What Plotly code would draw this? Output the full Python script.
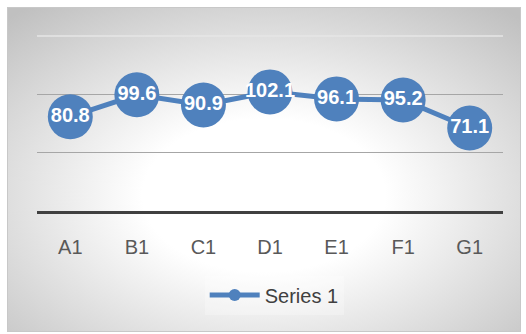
import base64
import plotly.graph_objects as go

categories = ["A1", "B1", "C1", "D1", "E1", "F1", "G1"]
values = [80.8, 99.6, 90.9, 102.1, 96.1, 95.2, 71.1]
series_name = "Series 1"
label_texts = [f"{v:.1f}" for v in values]

W, H = 526, 334
ml, mr, mt, mb = 37, 23, 36, 123
pw = W - ml - mr
ph = H - mt - mb

svg = f"""<svg xmlns='http://www.w3.org/2000/svg' width='514' height='325' viewBox='0 0 514 325'>
<defs><radialGradient id='g' cx='50%' cy='58%' r='74%'>
<stop offset='0' stop-color='#ffffff'/>
<stop offset='0.32' stop-color='#ffffff'/>
<stop offset='1' stop-color='#c0c0c0'/>
</radialGradient></defs>
<rect x='0.5' y='0.5' width='513' height='324' fill='url(#g)' stroke='#c8c8c8' stroke-width='1'/>
</svg>"""
src = "data:image/svg+xml;base64," + base64.b64encode(svg.encode()).decode()

fig = go.Figure()
fig.add_trace(go.Scatter(
    x=categories, y=values, name=series_name,
    mode="lines+markers+text",
    text=label_texts, textposition="middle center",
    textfont=dict(family="Liberation Sans", size=20, color="white", weight="bold"),
    line=dict(color="#4f81bd", width=5),
    marker=dict(size=45, color="#4f81bd"),
    cliponaxis=False,
))

fig.update_layout(
    width=W, height=H,
    margin=dict(l=ml, r=mr, t=mt, b=mb),
    paper_bgcolor="white",
    plot_bgcolor="rgba(0,0,0,0)",
    showlegend=True,
    legend=dict(orientation="h", x=0.509, xanchor="center", y=-0.48, yanchor="middle",
                font=dict(family="Liberation Sans", size=20, color="#404040"),
                itemsizing="constant", itemwidth=50,
                bgcolor="rgba(255,255,255,0.25)"),
    images=[dict(source=src, xref="paper", yref="paper",
                 x=(7 - ml) / pw, y=(mt + ph - 7) / ph,
                 sizex=514 / pw, sizey=325 / ph,
                 xanchor="left", yanchor="top", sizing="stretch", layer="below")],
    xaxis=dict(type="category", range=[-0.5, 6.5], showgrid=False,
               showline=True, linecolor="#404040", linewidth=3,
               ticks="outside", ticklen=16, tickcolor="rgba(0,0,0,0)",
               tickfont=dict(family="Liberation Sans", size=20, color="#595959")),
    yaxis=dict(range=[0, 150], tickvals=[50, 100], showticklabels=False,
               showgrid=True, gridcolor="#a6a6a6", gridwidth=1.3,
               zeroline=False, showline=False),
    shapes=[dict(type="line", xref="paper", yref="paper", x0=0, x1=1, y0=1, y1=1,
                 line=dict(color="#e6e6e6", width=1.3), layer="below")],
)

fig.write_html("out.html")
